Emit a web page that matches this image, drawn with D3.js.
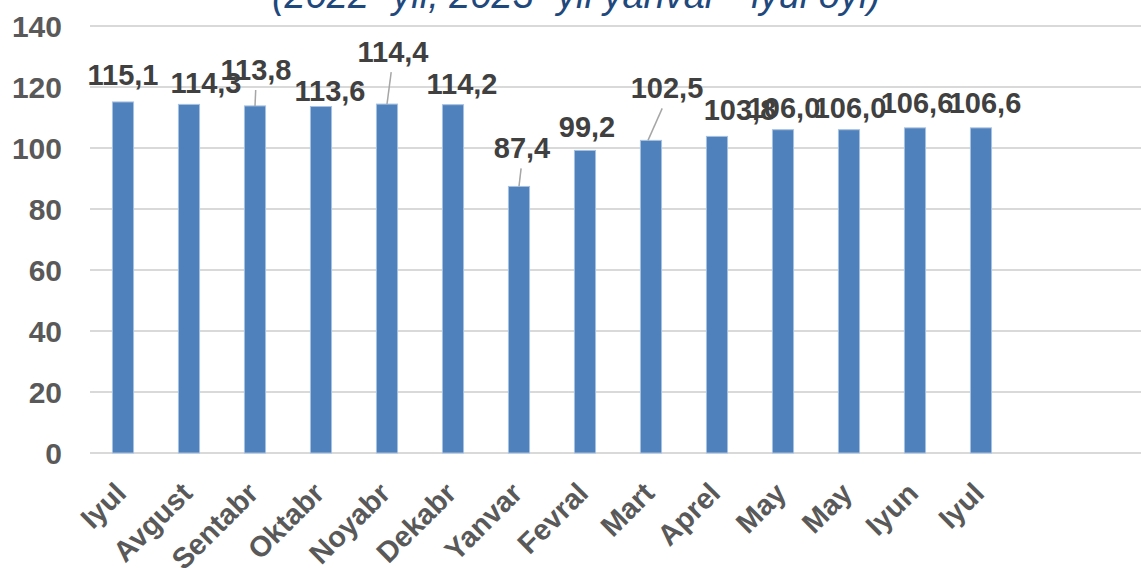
<!DOCTYPE html>
<html>
<head>
<meta charset="utf-8">
<script src="https://cdn.jsdelivr.net/npm/d3@7"></script>
<style>
  body { margin: 0; background: #fff; }
  svg { display: block; font-family: Arial, "Liberation Sans", sans-serif; }
</style>
</head>
<body>
<svg id="chart" width="1141" height="568"></svg>
<script>
// data
var months = ["Iyul", "Avgust", "Sentabr", "Oktabr", "Noyabr", "Dekabr", "Yanvar",
              "Fevral", "Mart", "Aprel", "May", "May", "Iyun", "Iyul"];
var values = [115.1, 114.3, 113.8, 113.6, 114.4, 114.2, 87.4,
              99.2, 102.5, 103.8, 106.0, 106.0, 106.6, 106.6];
var yTicks = [0, 20, 40, 60, 80, 100, 120, 140];
var title = "(2022- yil, 2023- yil yanvar - iyul oyi)";
// label offsets from bar top (dx, dy) - some labels were moved by hand with leader lines
var labelOffsets = [[0, -17], [17, -11], [1, -26], [9, -6], [6, -42], [9, -11], [3, -28],
                    [2, -13], [16, -42], [23, -16], [1, -12], [1, -12], [2, -15], [4, -15]];
var leaders = [2, 4, 6, 8];

var svg = d3.select("#chart");

// 16 slots on the category axis, the last two are empty
var slots = d3.range(16);
var x = d3.scaleBand().domain(slots).range([90, 1146]).paddingInner(0.68).paddingOuter(0.34);
var y = d3.scaleLinear().domain([0, 140]).range([453, 26]);

// gridlines
svg.append("g")
    .selectAll("line")
    .data(yTicks)
    .enter().append("line")
    .attr("x1", 90)
    .attr("x2", 1141)
    .attr("y1", function(d) { return y(d); })
    .attr("y2", function(d) { return y(d); })
    .attr("stroke", "#d9d9d9")
    .attr("stroke-width", 2);

// y axis labels
svg.append("g")
    .selectAll("text")
    .data(yTicks)
    .enter().append("text")
    .attr("x", 62)
    .attr("y", function(d) { return y(d) + 11; })
    .attr("text-anchor", "end")
    .attr("font-size", 30)
    .attr("font-weight", "bold")
    .attr("fill", "#595959")
    .text(function(d) { return d; });

// title (top part is cut off in the original)
svg.append("text")
    .attr("x", 576)
    .attr("y", 8)
    .attr("text-anchor", "middle")
    .attr("font-size", 38)
    .attr("font-style", "italic")
    .attr("fill", "#1f497d")
    .text(title);

// bars
svg.append("g")
    .selectAll("rect")
    .data(values)
    .enter().append("rect")
    .attr("x", function(d, i) { return x(i); })
    .attr("width", x.bandwidth())
    .attr("y", function(d) { return y(d); })
    .attr("height", function(d) { return y(0) - y(d); })
    .attr("fill", "#4f81bd")
    .attr("stroke", "#a9c1e0")
    .attr("stroke-width", 1);

function cx(i) { return x(i) + x.bandwidth() / 2; }

// leader lines
svg.append("g")
    .selectAll("line")
    .data(leaders)
    .enter().append("line")
    .attr("x1", function(i) { return cx(i) - (i === 8 ? 3 : 0); })
    .attr("y1", function(i) { return y(values[i]); })
    .attr("x2", function(i) { return cx(i) + labelOffsets[i][0] * 0.7; })
    .attr("y2", function(i) { return y(values[i]) + labelOffsets[i][1] + 10; })
    .attr("stroke", "#a6a6a6")
    .attr("stroke-width", 1.5);

// value labels
svg.append("g")
    .selectAll("text")
    .data(values)
    .enter().append("text")
    .attr("x", function(d, i) { return cx(i) + labelOffsets[i][0]; })
    .attr("y", function(d, i) { return y(d) + labelOffsets[i][1]; })
    .attr("text-anchor", "middle")
    .attr("font-size", 29)
    .attr("font-weight", "bold")
    .attr("fill", "#404040")
    .text(function(d) { return d3.format(".1f")(d).replace(".", ","); });

// category labels
svg.append("g")
    .selectAll("text")
    .data(months)
    .enter().append("text")
    .attr("transform", function(d, i) { return "translate(" + (cx(i) + 5) + "," + 495 + ") rotate(-45)"; })
    .attr("text-anchor", "end")
    .attr("font-size", 29)
    .attr("font-weight", "bold")
    .attr("fill", "#595959")
    .text(function(d) { return d; });
</script>
</body>
</html>
